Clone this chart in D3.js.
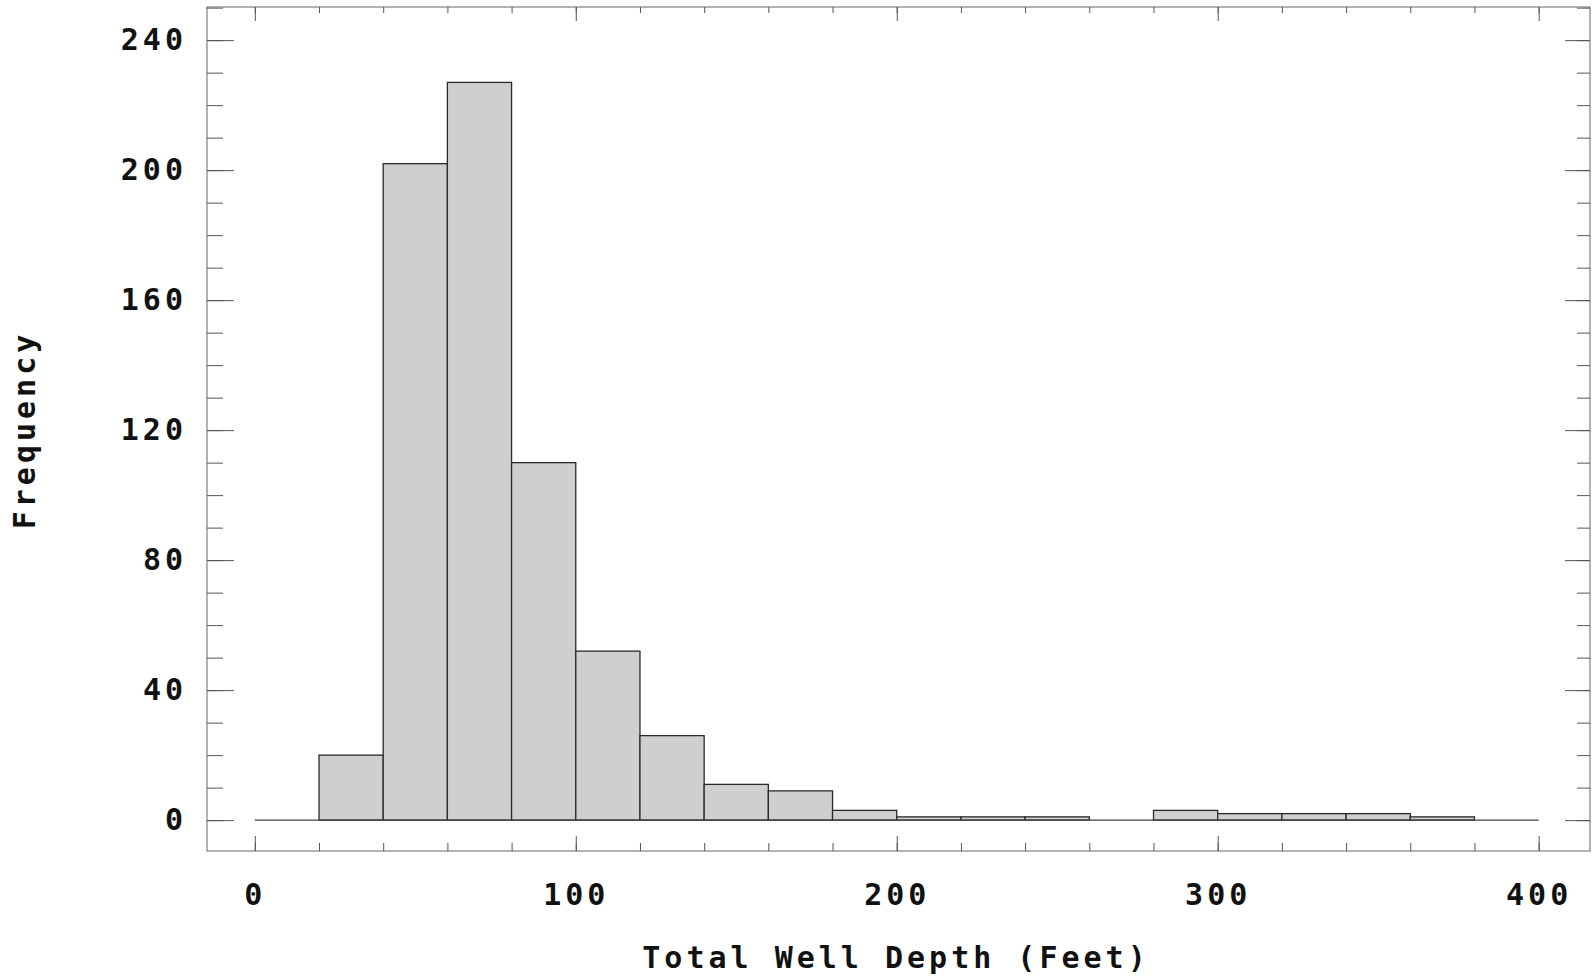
<!DOCTYPE html>
<html>
<head>
<meta charset="utf-8">
<script src="https://d3js.org/d3.v7.min.js"></script>
<style>
  body { margin: 0; background: #fff; }
  text { font-family: "DejaVu Sans Mono", monospace; font-weight: bold; fill: #111; }
</style>
</head>
<body>
<script>
// histogram data
var binStarts = [20, 40, 60, 80, 100, 120, 140, 160, 180, 200, 220, 240, 260, 280, 300, 320, 340, 360];
var binWidth = 20;
var counts = [20, 202, 227, 110, 52, 26, 11, 9, 3, 1, 1, 1, 0, 3, 2, 2, 2, 1];

var xMajorTicks = [0, 100, 200, 300, 400];
var yMajorTicks = [0, 40, 80, 120, 160, 200, 240];

// svg area
var svgWidth = 1593;
var svgHeight = 980;

// frame of the plot
var frame = { left: 207, right: 1590, top: 7, bottom: 851 };

var svg = d3.select("body")
  .append("svg")
  .attr("width", svgWidth)
  .attr("height", svgHeight);

// create scales
var xScale = d3.scaleLinear()
  .domain([-14.9, 416])
  .range([frame.left, frame.right]);

var yScale = d3.scaleLinear()
  .domain([-9.5, 250.2])
  .range([frame.bottom, frame.top]);

var xMinor = d3.range(0, 401, 20);
var yMinor = d3.range(0, 251, 10);

// bars
var bins = binStarts.map(function(s, i) { return { x0: s, x1: s + binWidth, n: counts[i] }; })
  .filter(function(d) { return d.n > 0; });

svg.append("g")
  .selectAll("rect")
  .data(bins)
  .enter()
  .append("rect")
  .attr("x", d => xScale(d.x0))
  .attr("y", d => yScale(d.n))
  .attr("width", d => xScale(d.x1) - xScale(d.x0))
  .attr("height", d => yScale(0) - yScale(d.n))
  .attr("fill", "#cfcfcf")
  .attr("stroke", "#2a2a2a")
  .attr("stroke-width", 1.3);

// zero line
svg.append("line")
  .attr("x1", xScale(0))
  .attr("x2", xScale(400))
  .attr("y1", yScale(0))
  .attr("y2", yScale(0))
  .attr("stroke", "#444")
  .attr("stroke-width", 1.3);

// frame
svg.append("rect")
  .attr("x", frame.left)
  .attr("y", frame.top)
  .attr("width", frame.right - frame.left)
  .attr("height", frame.bottom - frame.top)
  .attr("fill", "none")
  .attr("stroke", "#666")
  .attr("stroke-width", 1);

// axes
function styleAxis(g) {
  g.select(".domain").remove();
  g.selectAll("line").attr("stroke", "#555");
  g.selectAll("text")
    .attr("font-size", "30px")
    .attr("letter-spacing", "4px")
    .attr("font-family", "DejaVu Sans Mono, monospace")
    .attr("font-weight", "bold")
    .attr("fill", "#111");
}

// left
svg.append("g")
  .attr("transform", `translate(${frame.left},0)`)
  .call(d3.axisLeft(yScale).tickValues(yMinor).tickSize(-16).tickFormat(""))
  .call(styleAxis);
svg.append("g")
  .attr("transform", `translate(${frame.left},0)`)
  .call(d3.axisLeft(yScale).tickValues(yMajorTicks).tickSize(-27).tickPadding(20))
  .call(styleAxis);

// right
svg.append("g")
  .attr("transform", `translate(${frame.right},0)`)
  .call(d3.axisRight(yScale).tickValues(yMinor).tickSize(-13).tickFormat(""))
  .call(styleAxis);
svg.append("g")
  .attr("transform", `translate(${frame.right},0)`)
  .call(d3.axisRight(yScale).tickValues(yMajorTicks).tickSize(-25).tickFormat(""))
  .call(styleAxis);

// bottom
svg.append("g")
  .attr("transform", `translate(0,${frame.bottom})`)
  .call(d3.axisBottom(xScale).tickValues(xMinor).tickSize(-8).tickFormat(""))
  .call(styleAxis);
svg.append("g")
  .attr("transform", `translate(0,${frame.bottom})`)
  .call(d3.axisBottom(xScale).tickValues(xMajorTicks).tickSize(-15).tickPadding(33))
  .call(styleAxis);

// top
svg.append("g")
  .attr("transform", `translate(0,${frame.top})`)
  .call(d3.axisTop(xScale).tickValues(xMinor).tickSize(-6).tickFormat(""))
  .call(styleAxis);
svg.append("g")
  .attr("transform", `translate(0,${frame.top})`)
  .call(d3.axisTop(xScale).tickValues(xMajorTicks).tickSize(-14).tickFormat(""))
  .call(styleAxis);

// axis titles
svg.append("text")
  .attr("x", 896)
  .attr("y", 968)
  .attr("text-anchor", "middle")
  .attr("font-size", "30px")
  .attr("letter-spacing", "4px")
  .text("Total Well Depth (Feet)");

svg.append("text")
  .attr("transform", "translate(35,430) rotate(-90)")
  .attr("text-anchor", "middle")
  .attr("font-size", "30px")
  .attr("letter-spacing", "4px")
  .text("Frequency");
</script>
</body>
</html>
